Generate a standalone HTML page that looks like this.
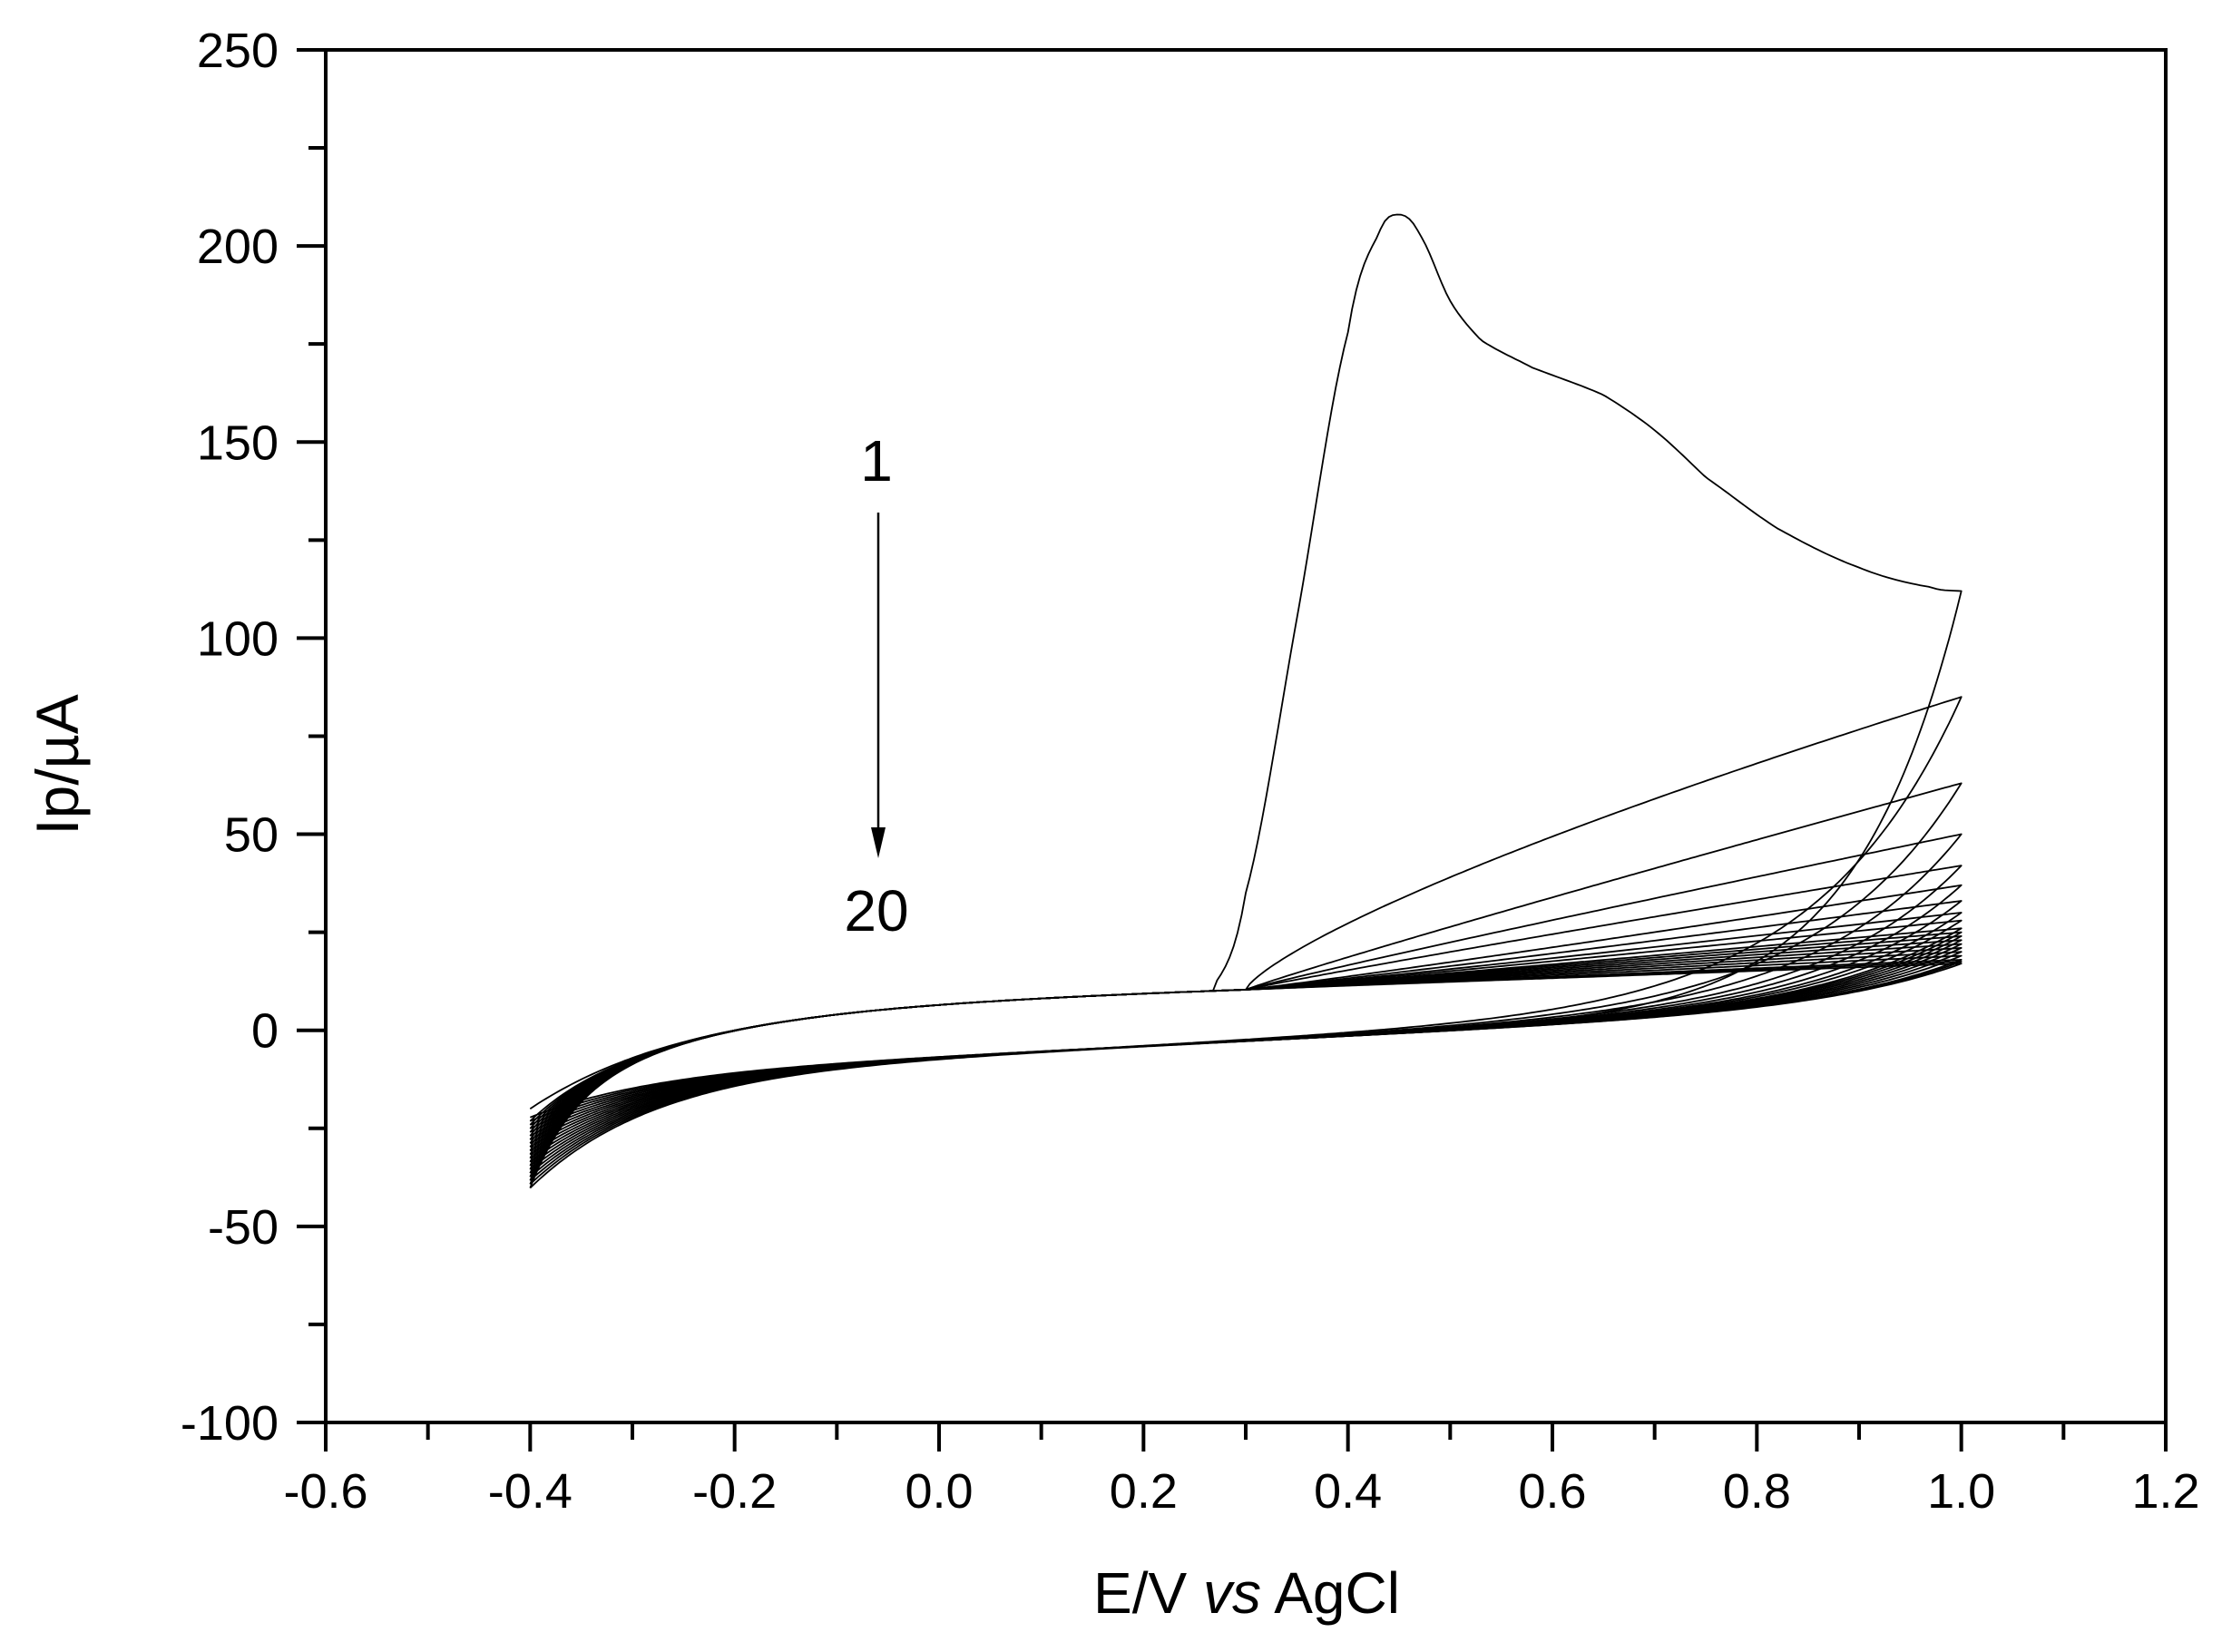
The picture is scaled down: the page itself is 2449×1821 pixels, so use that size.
<!DOCTYPE html>
<html><head><meta charset="utf-8"><style>
html,body{margin:0;padding:0;background:#fff;}
svg{display:block;font-family:"Liberation Sans",Arial,sans-serif;}
</style></head><body>
<svg id="s" width="2449" height="1821" viewBox="0 0 2449 1821" xmlns="http://www.w3.org/2000/svg">
<rect width="2449" height="1821" fill="#fff"/>
<g id="curves" fill="none" stroke="#000" stroke-width="1.8" stroke-linejoin="round"></g>
<rect x="359" y="55" width="2028" height="1513" fill="none" stroke="#000" stroke-width="4"/>
<g id="ticks" stroke="#000" stroke-width="4"></g>
<g id="labels" font-size="54" fill="#000"></g>
<text x="1374" y="1778" font-size="64" text-anchor="middle">E/V <tspan font-style="italic">vs</tspan> AgCl</text>
<text transform="translate(86,843) rotate(-90)" font-size="66" text-anchor="middle">Ip/µA</text>
<text x="966" y="530" font-size="64" text-anchor="middle">1</text>
<text x="966" y="1026" font-size="64" text-anchor="middle">20</text>
<line x1="968" y1="565" x2="968" y2="920" stroke="#000" stroke-width="2.5"/>
<polygon points="960,912 976,912 968,946" fill="#000"/>
</svg>
<script>
var NS="http://www.w3.org/2000/svg";
function X(v){return 359+(v+0.6)*1126.67;}
function Y(i){return 1568-(i+100)*4.323;}
function el(p,tag,a,txt){var e=document.createElementNS(NS,tag);for(var k in a)e.setAttribute(k,a[k]);if(txt!==undefined)e.textContent=txt;p.appendChild(e);return e;}
var tk=document.getElementById('ticks'),lb=document.getElementById('labels');
for(var j=0;j<=18;j++){var v=-0.6+j*0.1,x=X(v),maj=j%2==0;
 el(tk,'line',{x1:x,y1:1568,x2:x,y2:1568+(maj?32:19)});
 if(maj)el(lb,'text',{x:x,y:1662,'text-anchor':'middle'},v.toFixed(1));}
for(var j=0;j<=14;j++){var i=-100+j*25,y=Y(i),maj=j%2==0;
 el(tk,'line',{x1:359,y1:y,x2:359-(maj?32:19),y2:y});
 if(maj)el(lb,'text',{x:307,y:y+19,'text-anchor':'end'},String(i));}
var E=[112,85,63,50,42,37,33,30,28,26,25,24,23,22,21,20,19,18,17.5,17];
function base(v){return -20+25*(1-Math.exp(-(v+0.4)/0.15))+8*(v+0.4);}
function interp(pts,v){
 for(var k=0;k<pts.length-1;k++){if(v<=pts[k+1][0]){
  var p0=pts[Math.max(k-1,0)],p1=pts[k],p2=pts[k+1],p3=pts[Math.min(k+2,pts.length-1)];
  var t=(v-p1[0])/(p2[0]-p1[0]);
  var m1=(p2[1]-p0[1])/2,m2=(p3[1]-p1[1])/2;
  var t2=t*t,t3=t2*t;
  return (2*t3-3*t2+1)*p1[1]+(t3-2*t2+t)*m1+(-2*t3+3*t2)*p2[1]+(t3-t2)*m2;}}
 return pts[pts.length-1][1];}
var pk=[[0.27,12],[0.3,35],[0.35,105],[0.4,178],[0.43,203],[0.45,208],[0.47,203],[0.5,186],[0.53,176],[0.58,169],[0.65,162],[0.7,153],[0.75,141],[0.82,128],[0.9,118],[0.97,113],[1.0,112]];
var g=document.getElementById('curves');
var prevEnd=-20;
for(var k=0;k<20;k++){
 var t=k/19,d="",s=prevEnd;
 var dv=0.004;
 var p=(k==1?0.75:(k<5?0.95:1.1));
 for(var v=-0.4;v<=1.0001;v+=dv){
  var i=base(v)+(s-base(-0.4))*Math.exp(-(v+0.4)/0.04);
  if(k==0){ if(v>=0.27) i=interp(pk,v); }
  else if(v>0.3){ i+= (E[k]-base(1))*Math.pow((v-0.3)/0.7,p); }
  d+=(d?"L":"M")+X(v).toFixed(1)+","+Y(i).toFixed(1);
 }
 var depth=29-18*t, w=(k==0?0.1:0.14);
 function c(v){return -4+12*(v-0.2)-depth*Math.exp(-(v+0.4)/0.12);}
 for(var v=1.0;v>=-0.4001;v-=dv){
  var i=c(v)+(E[k]-c(1))*Math.exp(-(1-v)/w);
  d+="L"+X(v).toFixed(1)+","+Y(i).toFixed(1);
 }
 prevEnd=c(-0.4);
 el(g,'path',{d:d});
}
</script>
</body></html>
